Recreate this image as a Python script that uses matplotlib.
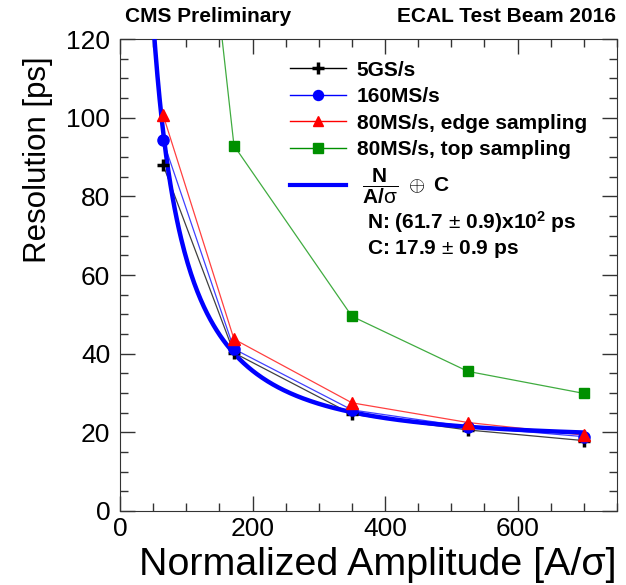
import numpy as np
import matplotlib
matplotlib.use("Agg")
import matplotlib.pyplot as plt
from matplotlib.lines import Line2D
from matplotlib.ticker import MultipleLocator

plt.rcParams['font.family'] = ['Liberation Sans', 'DejaVu Sans']
plt.rcParams['mathtext.fontset'] = 'custom'
plt.rcParams['mathtext.rm'] = 'Liberation Sans'
plt.rcParams['mathtext.bf'] = 'Liberation Sans:bold'
plt.rcParams['mathtext.it'] = 'Liberation Sans:italic'

# amplitude points [A/sigma]
amp = [65, 172, 350, 525, 700]
# time resolution [ps]
res_5gs = [88.0, 40.2, 24.6, 20.6, 17.9]
res_160ms = [94.2, 41.2, 25.7, 21.4, 18.9]
res_80edge = [100.7, 43.7, 27.5, 22.5, 19.3]
res_80top = [255.0, 92.9, 49.5, 35.5, 29.9]

# fit parameters: N/(A/sigma) (+) C
fit_N = 6170.0
fit_C = 17.9
fit_xmin, fit_xmax = 50, 700

fig = plt.figure(figsize=(6.26, 5.85), dpi=100)
ax = fig.add_axes([0.1917, 0.1265, 0.7939, 0.8068])

series = [
    (res_5gs, "black", "+", 9, "5GS/s"),
    (res_160ms, "blue", "o", 8, "160MS/s"),
    (res_80edge, "red", "^", 8.5, "80MS/s, edge sampling"),
    (res_80top, "#009000", "s", 7.5, "80MS/s, top sampling"),
]

for y, c, m, ms, lab in series:
    ax.plot(amp, y, color=c, lw=0.9, alpha=0.75, zorder=2)

xf = np.linspace(fit_xmin, fit_xmax, 400)
yf = np.sqrt((fit_N / xf) ** 2 + fit_C ** 2)
ax.plot(xf, yf, color="blue", lw=3.2, zorder=3)

for y, c, m, ms, lab in series:
    ax.plot(amp, y, ls="none", color=c, marker=m, ms=ms,
            mew=2.5 if m == "+" else 1, zorder=4)

ax.set_xlim(0, 750)
ax.set_ylim(0, 120)
ax.xaxis.set_major_locator(MultipleLocator(200))
ax.xaxis.set_minor_locator(MultipleLocator(50))
ax.yaxis.set_major_locator(MultipleLocator(20))
ax.yaxis.set_minor_locator(MultipleLocator(5))
ax.tick_params(which="both", direction="in", top=True, right=True,
               width=1, color="#333333")
ax.tick_params(which="major", length=11, labelsize=19, pad=4)
ax.tick_params(axis="y", which="major", pad=7)
ax.tick_params(which="minor", length=6)
for s in ax.spines.values():
    s.set_color("#333333")

ax.set_xlabel("Normalized Amplitude [A/σ]", fontsize=28.4, loc="right", labelpad=5)
ax.set_ylabel("Resolution [ps]", fontsize=22.5, loc="top")
ax.yaxis.set_label_coords(-0.135, 0.964)

handles = []
for y, c, m, ms, lab in series:
    handles.append(Line2D([], [], color=c, lw=1, marker=m, ms=ms * 0.9,
                          mew=2.5 if m == "+" else 1))
handles.append(Line2D([], [], color="blue", lw=3))
labels = [s[4] for s in series] + [r"$\ \dfrac{\mathbf{N}}{\mathbf{A/}\mathrm{σ}}\ \oplus\ \mathbf{C}$"]
leg = ax.legend(handles, labels, loc="upper left", bbox_to_anchor=(0.342, 0.954),
                frameon=False, prop={"weight": "bold", "size": 15},
                handlelength=2.7, handletextpad=0.5, labelspacing=0.36,
                borderpad=0, borderaxespad=0)

fig.text(367 / 626, 1 - 222 / 585, r"N: (61.7 $\pm$ 0.9)x10$^{\mathbf{2}}$ ps",
         fontsize=15, fontweight="bold", va="center")
fig.text(367 / 626, 1 - 249 / 585, r"C: 17.9 $\pm$ 0.9 ps",
         fontsize=15, fontweight="bold", va="center")

fig.text(125 / 626, 1 - 17 / 585, "CMS Preliminary", fontsize=15,
         fontweight="bold", va="center")
fig.text(616 / 626, 1 - 17 / 585, "ECAL Test Beam 2016", fontsize=15,
         fontweight="bold", va="center", ha="right")

fig.savefig("out.png", dpi=100)
